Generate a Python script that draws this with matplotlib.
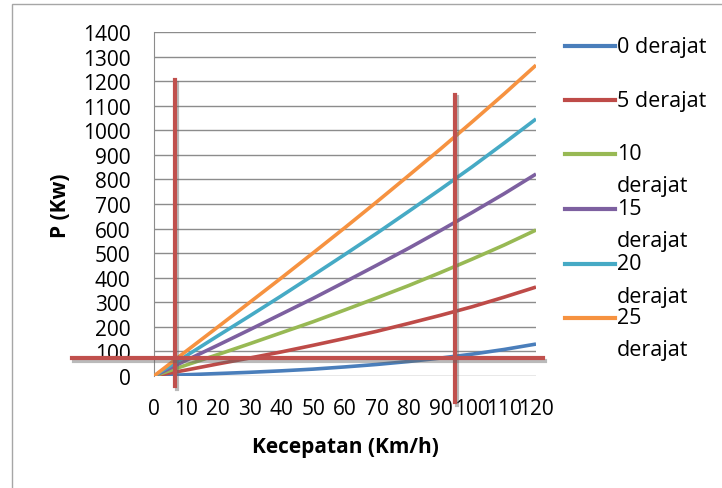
import matplotlib
matplotlib.use("Agg")
import matplotlib.pyplot as plt
import matplotlib.patheffects as pe
from matplotlib.lines import Line2D
from matplotlib.patches import Rectangle

# data
kecepatan = [0, 10, 20, 30, 40, 50, 60, 70, 80, 90, 100, 110, 120]
p_0 = [0, 5, 10, 15, 21, 28, 37, 47, 59, 73, 89, 108, 130]
p_5 = [0, 24, 49, 73, 98, 125, 153, 182, 214, 247, 282, 321, 362]
p_10 = [0, 44, 87, 131, 176, 221, 269, 318, 368, 421, 476, 533, 594]
p_15 = [0, 63, 125, 188, 252, 316, 383, 451, 520, 592, 666, 742, 822]
p_20 = [0, 81, 163, 244, 326, 410, 495, 581, 670, 760, 852, 948, 1046]
p_25 = [0, 100, 199, 299, 399, 501, 604, 709, 816, 924, 1035, 1148, 1265]
labels = ["0 derajat", "5 derajat", "10 derajat", "15 derajat", "20 derajat", "25 derajat"]
colors = ["#4A7EBB", "#BE4B48", "#98B954", "#7D60A0", "#46AAC5", "#F69240"]
series = [p_0, p_5, p_10, p_15, p_20, p_25]
x_ticks = list(range(0, 121, 10))
y_ticks = list(range(0, 1401, 100))

# crosshair marks (red annotation lines)
v_lines = [(6.6, -41, 1205), (94.5, -106, 1145)]
h_line = (73, -25.8, 122.3)

plt.rcParams['font.family'] = ['Open Sans', 'DejaVu Sans']

W, H = 722, 489
fig = plt.figure(figsize=(W / 100, H / 100), dpi=100)
ax = fig.add_axes([154 / W, 1 - 377 / H, (536 - 154) / W, (377 - 33) / H])

for vals, c in zip(series, colors):
    ax.plot(kecepatan, vals, color=c, lw=2.6, solid_capstyle='butt', zorder=3)

ax.set_xlim(0, 120)
ax.set_ylim(0, 1400)
ax.set_xticks(x_ticks)
ax.set_yticks(y_ticks)
ax.tick_params(length=0, labelsize=15)
ax.tick_params(axis='y', pad=17)
ax.tick_params(axis='x', pad=16)
ax.grid(axis='y', color='#8c8c8c', lw=1)
for s in ['top', 'right', 'bottom']:
    ax.spines[s].set_visible(False)
ax.spines['left'].set_color('#8c8c8c')

fig.text(345 / W, 1 - 447 / H, "Kecepatan (Km/h)", ha='center', va='center',
         fontsize=15, fontweight='bold')
fig.text(61 / W, 1 - 206 / H, "P (Kw)", ha='center', va='center',
         rotation=90, fontsize=15, fontweight='bold')

shadow = [pe.SimpleLineShadow(offset=(1.5, -2), shadow_color='#666666', alpha=0.45),
          pe.Normal()]
for xv, y0, y1 in v_lines:
    ax.plot([xv, xv], [y0, y1], color='#C0504D', lw=3, clip_on=False,
            zorder=5, path_effects=shadow)
ax.plot([h_line[1], h_line[2]], [h_line[0], h_line[0]], color='#C0504D', lw=3,
        clip_on=False, zorder=5, path_effects=shadow)

# legend drawn by hand to keep the wrapped labels
leg_y = [47, 101, 155, 210, 265, 319]
for lab, c, yy in zip(labels, colors, leg_y):
    fy = 1 - yy / H
    fig.add_artist(Line2D([565 / W, 615 / W], [fy, fy], color=c, lw=3,
                          transform=fig.transFigure))
    num, word = lab.split(" ")
    if len(num) == 1:
        fig.text(617 / W, fy, lab, ha='left', va='center', fontsize=15.5)
    else:
        fig.text(617 / W, fy, num, ha='left', va='center', fontsize=15.5)
        fig.text(617 / W, fy - 32 / H, word, ha='left', va='center', fontsize=15.5)

fig.add_artist(Rectangle((12 / W, -0.05), 1.0, 1 - 5 / H + 0.05, fill=False,
                         edgecolor='#a6a6a6', lw=1, transform=fig.transFigure))

fig.savefig("out.png", dpi=100)
